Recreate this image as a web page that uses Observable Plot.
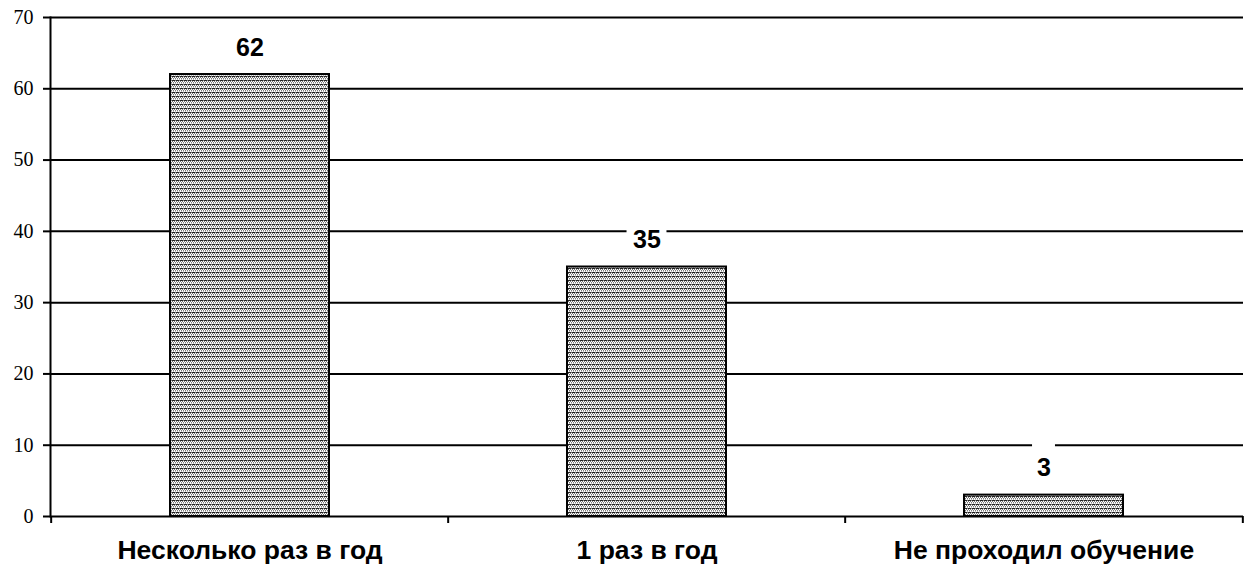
<!DOCTYPE html>
<html>
<head>
<meta charset="utf-8">
<script src="https://cdn.jsdelivr.net/npm/d3@7"></script>
<script src="https://cdn.jsdelivr.net/npm/@observablehq/plot@0.6"></script>
<style>
  html, body { margin: 0; padding: 0; background: #fff; }
</style>
</head>
<body>
<div id="chart"></div>
<script>
const categories = ["Несколько раз в год", "1 раз в год", "Не проходил обучение"];
const values = [62, 35, 3];
const yTicks = [0, 10, 20, 30, 40, 50, 60, 70];

const data = categories.map((c, i) => ({category: c, value: values[i]}));

const W = 1251, H = 572;
const mL = 50, mR = 8, mT = 17, mB = 56;
const step = (W - mL - mR) / categories.length;
const bandW = step * 0.4;
const labelFont = "Liberation Sans, Arial, sans-serif";

// white boxes behind the value labels (they knock out the gridlines, as in the source)
const labelBox = (digits, boxW) => Plot.barY(data, {
  filter: d => String(d.value).length === digits,
  x: "category", y1: "value", y2: "value",
  insetTop: -52, insetBottom: 12,
  insetLeft: (bandW - boxW) / 2, insetRight: (bandW - boxW) / 2,
  fill: "#fff"
});

const svg = Plot.plot({
  width: W,
  height: H,
  marginLeft: mL,
  marginRight: mR,
  marginTop: mT,
  marginBottom: mB,
  style: {background: "#fff", color: "#000"},
  x: {domain: categories, paddingInner: 0.6, paddingOuter: 0.3},
  y: {domain: [0, 70]},
  marks: [
    Plot.gridY(yTicks, {stroke: "#000", strokeOpacity: 1, strokeWidth: 2}),
    labelBox(1, 23),
    labelBox(2, 40),
    Plot.barY(data, {x: "category", y: "value", fill: "url(#hatch)", stroke: "#000", strokeWidth: 2}),
    Plot.text(data, {x: "category", y: "value", text: d => String(d.value), dy: -27,
      fill: "#000", fontSize: 25, fontWeight: "bold", fontFamily: labelFont}),
    Plot.frame({anchor: "left", stroke: "#000", strokeWidth: 2}),
    Plot.axisY({ticks: yTicks, tickSize: 7, tickPadding: 10, strokeWidth: 2, label: null,
      fontSize: 20, fontFamily: "Liberation Serif, Times New Roman, serif"}),
    Plot.axisX({ticks: categories, text: null, tickSize: 7, dx: -step / 2, strokeWidth: 2, label: null}),
    Plot.axisX({ticks: categories.slice(-1), text: null, tickSize: 7, dx: step / 2, strokeWidth: 2, label: null}),
    Plot.axisX({ticks: categories, tickSize: 0, tickPadding: 24, label: null,
      fontSize: 26.5, fontWeight: "bold", fontFamily: labelFont})
  ]
});

const defs = d3.select(svg).insert("defs", ":first-child");
const pat = defs.append("pattern").attr("id", "hatch")
  .attr("patternUnits", "userSpaceOnUse").attr("width", 4).attr("height", 4);
pat.append("rect").attr("width", 4).attr("height", 4).attr("fill", "#fff");
pat.append("rect").attr("y", 0).attr("width", 3).attr("height", 1).attr("fill", "#222");
pat.append("rect").attr("x", 3).attr("y", 0).attr("width", 1).attr("height", 1).attr("fill", "#888");
[[0,1],[2,1],[1,2],[3,2]].forEach(([x, y]) =>
  pat.append("rect").attr("x", x).attr("y", y).attr("width", 1).attr("height", 1).attr("fill", "#777"));
[[1,3],[3,3]].forEach(([x, y]) =>
  pat.append("rect").attr("x", x).attr("y", y).attr("width", 1).attr("height", 1).attr("fill", "#bbb"));

document.getElementById("chart").appendChild(svg);
</script>
</body>
</html>
